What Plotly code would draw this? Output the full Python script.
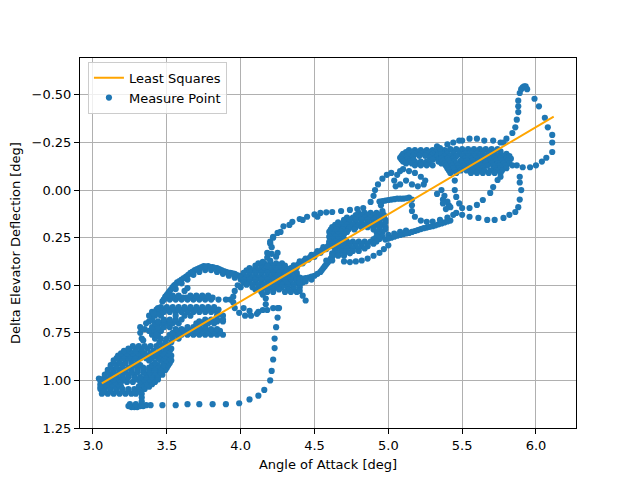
import plotly.graph_objects as go

# ---- Least squares line (endpoints) ----
ls_aoa = [3.06, 6.12]
ls_elev = [1.015, -0.386]

# ---- Measure points ----
def rows(spec):
    out = []
    for y, xs in spec:
        for x in xs:
            out.append((x, y))
    return out

blob_a = rows([
    (1.07, [3.06, 3.10, 3.14, 3.18, 3.22, 3.26, 3.29]),
    (1.058, [3.08, 3.12, 3.16, 3.20, 3.24, 3.28, 3.31]),
    (1.045, [3.05, 3.08, 3.12, 3.16, 3.20, 3.24, 3.28, 3.32, 3.35]),
    (1.033, [3.07, 3.11, 3.15, 3.19, 3.31, 3.35, 3.38]),
    (1.02, [3.05, 3.09, 3.13, 3.17, 3.33, 3.37, 3.40]),
    (1.008, [3.07, 3.11, 3.15, 3.19, 3.23, 3.27, 3.32, 3.36, 3.40, 3.42]),
    (0.995, [3.06, 3.10, 3.14, 3.18, 3.22, 3.30, 3.34, 3.38, 3.42, 3.44]),
    (0.983, [3.08, 3.12, 3.16, 3.20, 3.24, 3.28, 3.32, 3.36, 3.40, 3.44]),
    (0.97, [3.08, 3.12, 3.16, 3.20, 3.24, 3.28, 3.36, 3.40, 3.44, 3.47]),
    (0.958, [3.10, 3.14, 3.18, 3.22, 3.26, 3.30, 3.34, 3.38, 3.42, 3.46]),
    (0.945, [3.10, 3.14, 3.18, 3.22, 3.26, 3.30, 3.34, 3.38, 3.42, 3.46, 3.49]),
    (0.933, [3.12, 3.16, 3.20, 3.24, 3.30, 3.34, 3.38, 3.42, 3.46, 3.50]),
    (0.92, [3.12, 3.16, 3.20, 3.28, 3.32, 3.40, 3.44, 3.48, 3.51]),
    (0.908, [3.14, 3.18, 3.22, 3.26, 3.30, 3.42, 3.48, 3.52]),
    (0.895, [3.14, 3.18, 3.22, 3.26, 3.30, 3.38, 3.46, 3.50, 3.53]),
    (0.883, [3.16, 3.20, 3.24, 3.28, 3.32, 3.36, 3.40, 3.44, 3.48, 3.52]),
    (0.87, [3.17, 3.21, 3.25, 3.29, 3.33, 3.37, 3.41, 3.45, 3.49, 3.53]),
    (0.858, [3.19, 3.23, 3.27, 3.31, 3.35, 3.39, 3.43, 3.47, 3.51]),
    (0.845, [3.21, 3.25, 3.29, 3.33, 3.41, 3.45, 3.49, 3.52]),
    (0.833, [3.24, 3.29, 3.33, 3.37, 3.45, 3.49, 3.53]),
    (0.82, [3.27, 3.31, 3.35, 3.39, 3.43, 3.47, 3.51]),
]) + [(3.04, 0.99), (3.05, 1.0), (3.07, 1.06), (3.05, 1.035)]

tail_a = [(3.24, 1.135), (3.26, 1.14), (3.28, 1.14), (3.30, 1.14), (3.32, 1.135),
          (3.34, 1.135), (3.36, 1.13), (3.25, 1.125), (3.29, 1.125), (3.33, 1.125),
          (3.33, 1.07), (3.33, 1.09), (3.33, 1.11)]

bottom_dots = [(3.39, 1.13), (3.47, 1.13), (3.56, 1.13), (3.64, 1.125), (3.72, 1.125),
               (3.81, 1.125), (3.90, 1.125), (3.99, 1.12), (4.06, 1.10), (4.12, 1.08),
               (4.16, 1.05), (4.20, 1.0), (4.21, 0.95), (4.22, 0.89), (4.23, 0.83),
               (4.23, 0.78), (4.24, 0.72), (4.25, 0.67), (4.26, 0.62)]

band_a = rows([
    (0.80, [3.45, 3.49, 3.53]),
    (0.78, [3.42, 3.46, 3.50, 3.54, 3.58]),
    (0.76, [3.40, 3.44, 3.52, 3.56, 3.60, 3.64, 3.68, 3.72, 3.76, 3.80, 3.84, 3.88]),
    (0.75, [3.54, 3.58, 3.62, 3.66, 3.70, 3.74, 3.78, 3.82, 3.86]),
    (0.74, [3.38, 3.42, 3.46, 3.58, 3.62, 3.66, 3.70, 3.74, 3.78, 3.82, 3.86]),
    (0.73, [3.56, 3.60, 3.64, 3.68, 3.72, 3.76, 3.80, 3.84]),
    (0.72, [3.40, 3.44, 3.48, 3.52, 3.64, 3.68, 3.72, 3.76]),
    (0.70, [3.42, 3.46, 3.50, 3.54, 3.58, 3.70, 3.74, 3.78, 3.82]),
    (0.69, [3.44, 3.48, 3.52, 3.56, 3.72, 3.76, 3.80, 3.84, 3.88]),
    (0.68, [3.40, 3.48, 3.52, 3.56, 3.60, 3.76, 3.80, 3.84, 3.88]),
    (0.66, [3.38, 3.42, 3.46, 3.56, 3.62, 3.66, 3.84, 3.88]),
    (0.64, [3.40, 3.44, 3.48, 3.52, 3.56, 3.60, 3.64, 3.68, 3.72, 3.76, 3.80, 3.84]),
    (0.628, [3.43, 3.46, 3.49, 3.52, 3.55, 3.58, 3.61, 3.64, 3.67, 3.70, 3.73, 3.76,
             3.79, 3.82, 3.85]),
    (0.615, [3.46, 3.50, 3.54, 3.58, 3.62, 3.66, 3.70, 3.74, 3.78, 3.82]),
    (0.575, [3.48, 3.52, 3.56, 3.60, 3.64, 3.68, 3.72, 3.76, 3.80, 3.85, 3.90, 3.93]),
    (0.565, [3.49, 3.51, 3.53, 3.55, 3.57, 3.59, 3.61, 3.63, 3.65, 3.67, 3.69, 3.71,
             3.73, 3.75, 3.77, 3.79, 3.81]),
    (0.555, [3.50, 3.54, 3.58, 3.66, 3.70, 3.74, 3.78]),
]) + [(3.62, 0.53), (3.64, 0.515), (3.32, 0.72), (3.32, 0.75), (3.33, 0.78),
      (3.34, 0.79), (3.43, 0.76), (3.35, 0.73), (3.38, 0.69), (3.41, 0.65),
      (3.44, 0.62), (3.36, 0.70)]

arc_a = [(3.47, 0.585), (3.49, 0.56), (3.51, 0.54), (3.53, 0.52), (3.55, 0.50),
         (3.57, 0.485), (3.60, 0.47), (3.63, 0.455), (3.66, 0.435), (3.69, 0.42),
         (3.72, 0.41), (3.75, 0.40), (3.78, 0.40), (3.81, 0.405), (3.84, 0.41),
         (3.87, 0.42), (3.90, 0.43), (3.93, 0.435), (3.96, 0.44), (3.99, 0.45),
         (4.02, 0.455), (4.05, 0.46), (4.08, 0.46), (4.11, 0.465),
         (3.52, 0.555), (3.56, 0.52), (3.60, 0.49), (3.64, 0.47), (3.68, 0.445),
         (3.72, 0.43), (3.76, 0.42), (3.80, 0.42), (3.84, 0.43), (3.88, 0.44),
         (3.92, 0.45), (3.96, 0.46), (4.00, 0.47), (4.04, 0.475),
         (3.48, 0.575), (3.50, 0.55), (3.52, 0.53), (3.54, 0.51), (3.56, 0.495),
         (3.585, 0.478), (3.615, 0.462), (3.645, 0.445), (3.675, 0.428),
         (3.705, 0.415), (3.735, 0.405), (3.765, 0.402), (3.795, 0.404),
         (3.825, 0.408), (3.855, 0.415), (3.885, 0.425), (3.915, 0.433),
         (3.945, 0.438), (3.975, 0.446), (4.005, 0.453), (4.035, 0.458),
         (4.065, 0.461), (4.095, 0.463)]

cluster_b = rows([
    (0.385, [4.12, 4.16, 4.20, 4.24, 4.28]),
    (0.397, [4.10, 4.14, 4.18, 4.22, 4.26, 4.30]),
    (0.41, [4.06, 4.10, 4.14, 4.18, 4.22, 4.26, 4.30, 4.34]),
    (0.422, [4.04, 4.08, 4.12, 4.16, 4.20, 4.24, 4.28, 4.32, 4.36]),
    (0.435, [4.02, 4.06, 4.10, 4.14, 4.18, 4.22, 4.26, 4.30, 4.34, 4.38]),
    (0.447, [4.02, 4.06, 4.10, 4.14, 4.18, 4.22, 4.26, 4.30, 4.34, 4.38]),
    (0.46, [4.00, 4.04, 4.08, 4.12, 4.16, 4.20, 4.24, 4.28, 4.32, 4.36, 4.40]),
    (0.472, [4.02, 4.06, 4.10, 4.14, 4.18, 4.22, 4.26, 4.30, 4.34, 4.38, 4.42]),
    (0.485, [4.02, 4.06, 4.10, 4.14, 4.18, 4.22, 4.26, 4.30, 4.34, 4.38, 4.42]),
    (0.497, [4.04, 4.08, 4.12, 4.16, 4.20, 4.24, 4.28, 4.32, 4.36, 4.40]),
    (0.51, [4.08, 4.12, 4.16, 4.20, 4.24, 4.28, 4.32, 4.36, 4.40]),
    (0.522, [4.10, 4.14, 4.18, 4.22, 4.26, 4.32, 4.36]),
    (0.535, [4.14, 4.18, 4.22, 4.30, 4.34, 4.38]),
]) + [(3.96, 0.53), (3.95, 0.56), (3.95, 0.59), (3.96, 0.62), (3.99, 0.645),
      (4.03, 0.66), (4.07, 0.66), (4.11, 0.65), (4.15, 0.63), (4.17, 0.60),
      (4.17, 0.57), (4.15, 0.55), (4.00, 0.51), (3.98, 0.50), (4.02, 0.62),
      (4.06, 0.635), (4.12, 0.64), (4.18, 0.63), (4.22, 0.62),
      (4.18, 0.355), (4.21, 0.335), (4.24, 0.35), (4.20, 0.37),
      (4.40, 0.53), (4.42, 0.555), (4.44, 0.58), (4.25, 0.62)]

band_bc = [(4.30, 0.44), (4.34, 0.425), (4.38, 0.405), (4.42, 0.385), (4.46, 0.365),
           (4.50, 0.35), (4.54, 0.33), (4.58, 0.31), (4.62, 0.29), (4.66, 0.275),
           (4.32, 0.415), (4.36, 0.395), (4.40, 0.375), (4.44, 0.36), (4.48, 0.34),
           (4.52, 0.32), (4.56, 0.30), (4.60, 0.28),
           (4.31, 0.43), (4.35, 0.41), (4.39, 0.39), (4.43, 0.37), (4.47, 0.352),
           (4.51, 0.335), (4.55, 0.315), (4.59, 0.295), (4.63, 0.28),
           (4.38, 0.47), (4.42, 0.465), (4.46, 0.46), (4.50, 0.45), (4.54, 0.43),
           (4.56, 0.41), (4.58, 0.39), (4.60, 0.37), (4.62, 0.35), (4.64, 0.33),
           (4.40, 0.468), (4.44, 0.463), (4.48, 0.455), (4.52, 0.44), (4.55, 0.42),
           (4.57, 0.40), (4.59, 0.38), (4.61, 0.36), (4.63, 0.34),
           (4.40, 0.485), (4.44, 0.48), (4.48, 0.47)]

arcs_bc = [(4.15, 0.377), (4.18, 0.33), (4.20, 0.28), (4.22, 0.25), (4.25, 0.225),
           (4.29, 0.19), (4.35, 0.167), (4.40, 0.152), (4.45, 0.14), (4.50, 0.128),
           (4.54, 0.12), (4.58, 0.117), (4.62, 0.115), (4.68, 0.11), (4.74, 0.104),
           (4.79, 0.10), (4.83, 0.094),
           (4.22, 0.246), (4.27, 0.22), (4.33, 0.183), (4.42, 0.157), (4.52, 0.14),
           (4.20, 0.27), (4.21, 0.30), (4.25, 0.33), (4.18, 0.40)]

cluster_c = rows([
    (0.12, [4.80, 4.84, 4.88, 4.92, 4.96]),
    (0.132, [4.78, 4.82, 4.86, 4.90, 4.94, 4.97]),
    (0.145, [4.72, 4.76, 4.80, 4.84, 4.88, 4.92, 4.96]),
    (0.157, [4.70, 4.74, 4.78, 4.82, 4.86, 4.90, 4.94, 4.98]),
    (0.17, [4.66, 4.70, 4.74, 4.78, 4.82, 4.86, 4.90, 4.94, 4.98]),
    (0.182, [4.64, 4.68, 4.72, 4.76, 4.80, 4.84, 4.88, 4.92, 4.96]),
    (0.195, [4.62, 4.66, 4.70, 4.74, 4.78, 4.82, 4.86, 4.90, 4.94, 4.98]),
    (0.207, [4.61, 4.65, 4.69, 4.73, 4.77, 4.90, 4.94, 4.98]),
    (0.22, [4.60, 4.64, 4.68, 4.72, 4.92, 4.96]),
    (0.232, [4.62, 4.66, 4.70, 4.94]),
    (0.245, [4.60, 4.64, 4.68, 4.92, 4.96]),
    (0.257, [4.62, 4.66, 4.70, 4.90, 4.94]),
    (0.27, [4.60, 4.64, 4.68, 4.72, 4.76, 4.80, 4.84, 4.88, 4.92]),
    (0.282, [4.62, 4.66, 4.70, 4.74, 4.78, 4.82, 4.86, 4.90]),
    (0.295, [4.62, 4.66, 4.70, 4.74, 4.78, 4.82, 4.86]),
    (0.307, [4.64, 4.68, 4.72, 4.76, 4.80, 4.84]),
    (0.32, [4.64, 4.68, 4.72, 4.76, 4.80]),
    (0.332, [4.62, 4.66, 4.70, 4.74]),
    (0.345, [4.62, 4.66, 4.70]),
    (0.37, [4.58, 4.62]),
])

around_c = [(4.70, 0.375), (4.74, 0.378), (4.78, 0.375), (4.82, 0.37), (4.86, 0.36),
            (4.90, 0.345), (4.94, 0.33), (4.97, 0.31), (5.00, 0.29),
            (4.98, 0.26), (5.02, 0.25), (5.06, 0.24), (5.10, 0.232), (5.14, 0.225),
            (5.18, 0.215), (5.22, 0.205), (5.26, 0.197), (5.30, 0.19), (5.34, 0.18),
            (5.38, 0.17), (5.42, 0.16), (5.00, 0.235), (5.04, 0.228), (5.08, 0.22),
            (5.12, 0.213),
            (5.00, 0.255), (5.04, 0.245), (5.08, 0.236), (5.12, 0.228), (5.16, 0.22),
            (5.20, 0.21), (5.24, 0.20), (5.28, 0.193), (5.32, 0.185), (5.36, 0.175),
            (5.40, 0.165),
            (4.94, 0.06), (4.98, 0.055), (5.02, 0.05), (5.06, 0.045), (5.10, 0.045),
            (5.14, 0.04), (5.16, 0.05), (5.16, 0.08), (5.16, 0.11), (5.18, 0.14),
            (4.96, 0.058), (5.00, 0.052), (5.04, 0.048), (5.08, 0.045), (5.12, 0.043),
            (5.22, 0.16), (5.26, 0.167), (5.30, 0.165), (5.35, 0.157), (5.40, 0.145),
            (5.44, 0.13), (4.95, 0.08), (4.96, 0.11), (4.97, 0.14),
            (4.88, 0.062), (4.90, 0.03), (4.91, 0.0), (4.93, -0.03), (4.96, -0.06),
            (4.99, -0.08), (5.02, -0.09)]

piece_d = [(5.04, -0.05), (5.06, -0.08), (5.08, -0.10), (5.10, -0.11), (5.14, -0.10),
           (5.18, -0.09), (5.22, -0.07), (5.25, -0.05), (5.24, -0.03), (5.20, -0.02),
           (5.16, -0.03), (5.12, -0.05), (5.08, -0.03), (5.05, -0.02)]

band_d = rows([
    (-0.21, [5.14, 5.18, 5.22, 5.26, 5.30, 5.34, 5.38]),
    (-0.20, [5.12, 5.16, 5.20, 5.24, 5.28, 5.32, 5.36]),
    (-0.19, [5.10, 5.14, 5.18, 5.22, 5.26, 5.30, 5.34, 5.38]),
    (-0.18, [5.09, 5.13, 5.17, 5.21, 5.25, 5.29, 5.33, 5.37]),
    (-0.17, [5.08, 5.12, 5.16, 5.28, 5.32, 5.36, 5.40]),
    (-0.16, [5.09, 5.13, 5.17, 5.30, 5.34, 5.38]),
    (-0.15, [5.10, 5.14, 5.18, 5.22, 5.26, 5.34, 5.38]),
    (-0.14, [5.12, 5.16, 5.20, 5.24, 5.28, 5.36]),
    (-0.13, [5.18, 5.22, 5.26, 5.30]),
])

cluster_d = rows([
    (-0.215, [5.42, 5.46, 5.50, 5.54, 5.58, 5.62, 5.66, 5.70, 5.74]),
    (-0.203, [5.40, 5.44, 5.48, 5.52, 5.56, 5.60, 5.64, 5.68, 5.72, 5.76]),
    (-0.19, [5.36, 5.40, 5.44, 5.48, 5.52, 5.56, 5.60, 5.64, 5.68, 5.72, 5.76, 5.80]),
    (-0.178, [5.38, 5.42, 5.46, 5.50, 5.54, 5.58, 5.62, 5.66, 5.70, 5.74, 5.78, 5.82]),
    (-0.165, [5.36, 5.40, 5.44, 5.52, 5.56, 5.60, 5.64, 5.68, 5.72, 5.76, 5.80, 5.83]),
    (-0.153, [5.37, 5.41, 5.45, 5.49, 5.53, 5.57, 5.61, 5.65, 5.69, 5.73, 5.77, 5.81]),
    (-0.14, [5.38, 5.42, 5.46, 5.50, 5.54, 5.58, 5.62, 5.66, 5.70, 5.74, 5.78, 5.82]),
    (-0.128, [5.39, 5.43, 5.47, 5.51, 5.55, 5.59, 5.63, 5.67, 5.71, 5.75, 5.79]),
    (-0.115, [5.40, 5.44, 5.48, 5.52, 5.56, 5.60, 5.64, 5.72, 5.76, 5.80]),
    (-0.103, [5.41, 5.45, 5.49, 5.53, 5.57, 5.61, 5.65, 5.69, 5.73, 5.77]),
    (-0.09, [5.42, 5.46, 5.56, 5.60, 5.64, 5.68, 5.72, 5.76]),
]) + [(5.45, -0.05), (5.45, 0.0), (5.46, 0.036), (5.48, 0.07), (5.50, 0.094),
      (5.33, 0.02), (5.37, 0.05), (5.41, 0.08), (5.36, 0.0), (5.38, 0.03),
      (5.40, 0.06), (5.42, 0.09), (5.37, 0.07), (5.39, 0.10)]

loops_d = [(5.33, -0.23), (5.35, -0.22), (5.40, -0.24), (5.44, -0.25), (5.48, -0.26),
           (5.50, -0.26), (5.55, -0.27), (5.60, -0.27), (5.65, -0.26), (5.71, -0.26),
           (5.76, -0.25),
           (5.78, -0.25), (5.80, -0.27), (5.84, -0.30), (5.86, -0.33), (5.87, -0.37),
           (5.88, -0.41), (5.88, -0.44), (5.88, -0.47), (5.89, -0.51), (5.90, -0.53),
           (5.91, -0.54), (5.92, -0.545), (5.93, -0.545), (5.94, -0.53), (5.99, -0.48),
           (6.02, -0.44), (6.06, -0.38), (6.08, -0.33), (6.11, -0.29), (6.11, -0.25),
           (6.11, -0.20), (6.07, -0.17), (6.04, -0.15), (6.00, -0.13), (5.96, -0.12),
           (5.91, -0.12), (5.87, -0.13), (5.84, -0.13),
           (5.89, -0.07), (5.89, -0.04), (5.90, 0.0), (5.89, 0.05), (5.88, 0.09),
           (5.86, 0.115), (5.82, 0.13), (5.78, 0.146), (5.72, 0.157), (5.67, 0.157),
           (5.61, 0.146), (5.55, 0.14), (5.50, 0.13), (5.46, 0.12),
           (5.76, -0.07), (5.74, -0.053), (5.71, -0.016), (5.69, 0.015), (5.64, 0.052),
           (5.60, 0.078), (5.55, 0.094)]

segments = [blob_a, tail_a, bottom_dots, band_a, arc_a, cluster_b, band_bc, arcs_bc,
            cluster_c, around_c, piece_d, band_d, cluster_d, loops_d]
pts = [p for seg in segments for p in seg]
mp_aoa = [p[0] for p in pts]
mp_elev = [p[1] for p in pts]

font = dict(family="DejaVu Sans", size=13, color="black")

fig = go.Figure()
fig.add_trace(go.Scatter(
    x=mp_aoa, y=mp_elev, mode="markers", name="Measure Point",
    marker=dict(color="#1f77b4", size=6.2, line=dict(width=0)),
    legendrank=2,
))
fig.add_trace(go.Scatter(
    x=ls_aoa, y=ls_elev, mode="lines", name="Least Squares",
    line=dict(color="#ffa500", width=2),
    legendrank=1,
))

axis_common = dict(
    showline=True, linecolor="black", linewidth=1, mirror=True,
    ticks="outside", ticklen=5, tickcolor="black", tickwidth=1,
    showgrid=True, gridcolor="#b0b0b0", gridwidth=1, zeroline=False,
    tickfont=font, title_font=font, automargin=False,
)

# page body has an 8px margin, so the margins are shifted to compensate
fig.update_layout(
    width=640, height=480,
    margin=dict(l=72, r=72, t=50, b=60),
    paper_bgcolor="white", plot_bgcolor="white",
    font=font,
    showlegend=True,
    legend=dict(
        x=0.016, y=0.99, xanchor="left", yanchor="top",
        bgcolor="rgba(255,255,255,0.8)", bordercolor="#cccccc", borderwidth=1,
        font=font, tracegroupgap=0,
    ),
    xaxis=dict(
        range=[2.912, 6.271],
        tickvals=[3.0, 3.5, 4.0, 4.5, 5.0, 5.5, 6.0], tickformat=".1f",
        title=dict(text="Angle of Attack [deg]", standoff=8),
        **axis_common,
    ),
    yaxis=dict(
        range=[1.25, -0.694],
        tickvals=[-0.5, -0.25, 0.0, 0.25, 0.5, 0.75, 1.0, 1.25], tickformat=".2f",
        title=dict(text="Delta Elevator Deflection [deg]", standoff=8),
        **axis_common,
    ),
)

fig.write_html("out.html")
